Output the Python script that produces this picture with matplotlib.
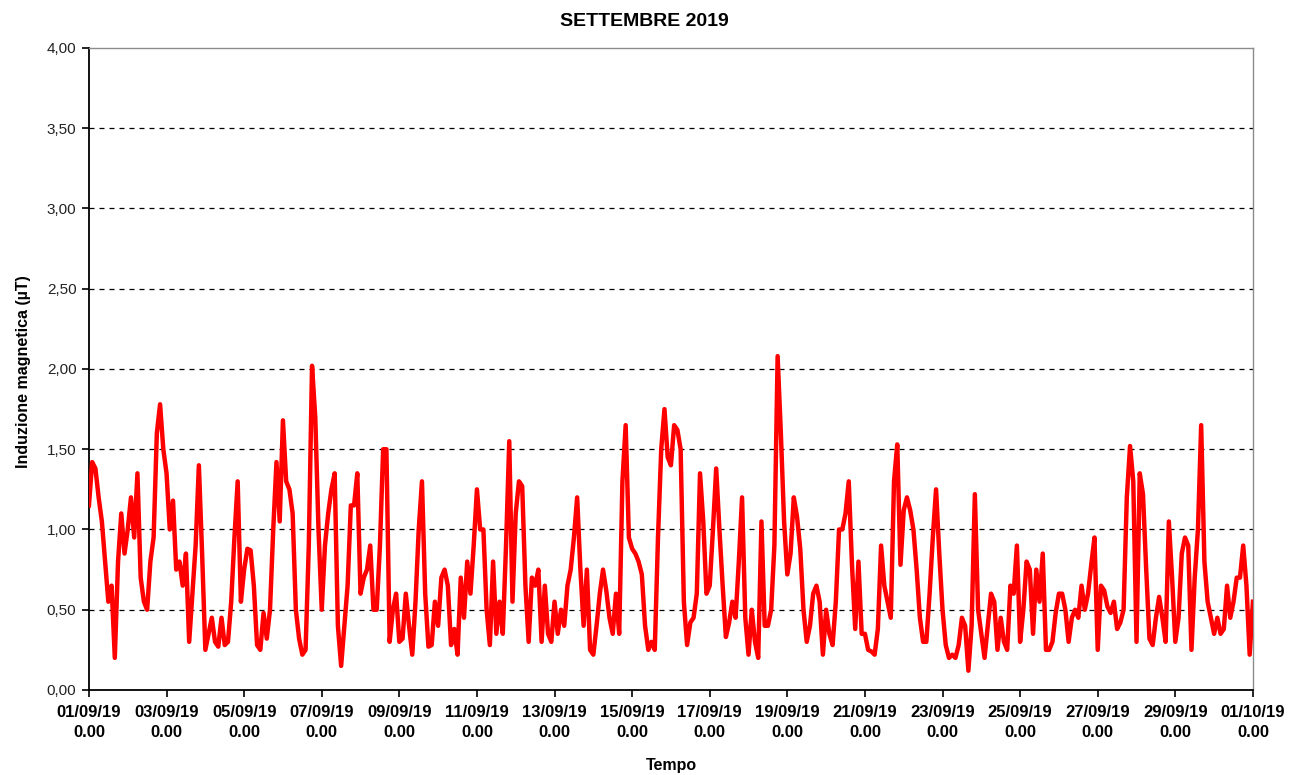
import numpy as np
import pandas as pd
import matplotlib
matplotlib.use("Agg")
import matplotlib.pyplot as plt

plt.rcParams['font.family'] = ['Liberation Sans', 'DejaVu Sans']

# induzione magnetica (uT), una lettura ogni 2 ore dal 01/09/19 0.00
b_uT = [
    1.15, 1.42, 1.38, 1.20, 1.05, 0.80, 0.55, 0.65, 0.20, 0.80, 1.10, 0.85,  # 01/09
    1.00, 1.20, 0.95, 1.35, 0.70, 0.55, 0.50, 0.80, 0.95, 1.60, 1.78, 1.50,  # 02/09
    1.35, 1.00, 1.18, 0.75, 0.80, 0.65, 0.85, 0.30, 0.60, 0.90, 1.40, 0.85,  # 03/09
    0.25, 0.35, 0.45, 0.30, 0.27, 0.45, 0.28, 0.30, 0.55, 0.95, 1.30, 0.55,  # 04/09
    0.75, 0.88, 0.87, 0.65, 0.28, 0.25, 0.48, 0.32, 0.50, 1.00, 1.42, 1.05,  # 05/09
    1.68, 1.30, 1.25, 1.10, 0.50, 0.32, 0.22, 0.25, 0.90, 2.02, 1.70, 1.00,  # 06/09
    0.50, 0.90, 1.10, 1.25, 1.35, 0.40, 0.15, 0.40, 0.65, 1.15, 1.15, 1.35,  # 07/09
    0.60, 0.70, 0.75, 0.90, 0.50, 0.50, 0.90, 1.50, 1.50, 0.30, 0.50, 0.60,  # 08/09
    0.30, 0.32, 0.60, 0.40, 0.22, 0.55, 1.00, 1.30, 0.60, 0.27, 0.28, 0.55,  # 09/09
    0.40, 0.70, 0.75, 0.65, 0.28, 0.38, 0.22, 0.70, 0.45, 0.80, 0.60, 0.90,  # 10/09
    1.25, 1.00, 1.00, 0.50, 0.28, 0.80, 0.35, 0.55, 0.35, 0.90, 1.55, 0.55,  # 11/09
    1.10, 1.30, 1.27, 0.65, 0.30, 0.70, 0.65, 0.75, 0.30, 0.65, 0.35, 0.30,  # 12/09
    0.55, 0.35, 0.50, 0.40, 0.65, 0.75, 0.95, 1.20, 0.75, 0.40, 0.75, 0.25,  # 13/09
    0.22, 0.40, 0.60, 0.75, 0.62, 0.45, 0.35, 0.60, 0.35, 1.30, 1.65, 0.95,  # 14/09
    0.88, 0.85, 0.80, 0.72, 0.40, 0.25, 0.30, 0.25, 0.95, 1.50, 1.75, 1.45,  # 15/09
    1.40, 1.65, 1.62, 1.50, 0.55, 0.28, 0.42, 0.45, 0.60, 1.35, 1.05, 0.60,  # 16/09
    0.65, 1.00, 1.38, 1.00, 0.65, 0.33, 0.42, 0.55, 0.45, 0.80, 1.20, 0.45,  # 17/09
    0.22, 0.50, 0.30, 0.20, 1.05, 0.40, 0.40, 0.50, 0.90, 2.08, 1.60, 1.05,  # 18/09
    0.72, 0.85, 1.20, 1.08, 0.88, 0.50, 0.30, 0.40, 0.60, 0.65, 0.55, 0.22,  # 19/09
    0.50, 0.35, 0.28, 0.55, 1.00, 1.00, 1.10, 1.30, 0.78, 0.38, 0.80, 0.35,  # 20/09
    0.35, 0.25, 0.24, 0.22, 0.38, 0.90, 0.65, 0.55, 0.45, 1.30, 1.53, 0.78,  # 21/09
    1.12, 1.20, 1.12, 1.00, 0.75, 0.45, 0.30, 0.30, 0.60, 0.95, 1.25, 0.85,  # 22/09
    0.50, 0.28, 0.20, 0.22, 0.20, 0.28, 0.45, 0.40, 0.12, 0.40, 1.22, 0.50,  # 23/09
    0.35, 0.20, 0.40, 0.60, 0.55, 0.25, 0.45, 0.30, 0.25, 0.65, 0.60, 0.90,  # 24/09
    0.30, 0.50, 0.80, 0.75, 0.35, 0.75, 0.55, 0.85, 0.25, 0.25, 0.30, 0.48,  # 25/09
    0.60, 0.60, 0.50, 0.30, 0.45, 0.50, 0.45, 0.65, 0.50, 0.60, 0.78, 0.95,  # 26/09
    0.25, 0.65, 0.62, 0.52, 0.48, 0.55, 0.38, 0.42, 0.50, 1.20, 1.52, 1.30,  # 27/09
    0.30, 1.35, 1.22, 0.75, 0.32, 0.28, 0.45, 0.58, 0.45, 0.30, 1.05, 0.70,  # 28/09
    0.30, 0.45, 0.85, 0.95, 0.90, 0.25, 0.70, 1.00, 1.65, 0.80, 0.55, 0.45,  # 29/09
    0.35, 0.45, 0.35, 0.38, 0.65, 0.45, 0.55, 0.70, 0.70, 0.90, 0.65, 0.22,  # 30/09
    0.55,                                                                    # 01/10
]
start = "2019-09-01"
end = "2019-10-01"
y_ticks = [0.0, 0.5, 1.0, 1.5, 2.0, 2.5, 3.0, 3.5, 4.0]

times = pd.date_range(start, periods=len(b_uT), freq="2h")
x_ticks = pd.date_range(start, end, freq="2D")

fig = plt.figure(figsize=(12.89, 7.75), dpi=100)
ax = fig.add_axes([0.069, 0.1097, 0.903, 0.8284])

# griglia tratteggiata
for y in y_ticks[1:-1]:
    ax.axhline(y, color='black', lw=0.9, ls=(0, (4, 4)), zorder=1)

ax.plot(times, b_uT, color='#ff0000', lw=3.2, zorder=3)

ax.set_ylim(0, 4)
ax.set_yticks(y_ticks)
ax.set_yticklabels([f"{v:.2f}".replace('.', ',') for v in y_ticks], fontsize=11, color='#222222')
ax.set_xlim(pd.Timestamp(start), pd.Timestamp(end))
ax.set_xticks(x_ticks)
ax.set_xticklabels([f"{t:%d/%m/%y}\n{t.hour}.{t:%M}" for t in x_ticks],
                   fontsize=12, fontweight='bold', linespacing=1.4)
ax.tick_params(axis='both', direction='out', length=5, width=1.2, color='black')
ax.tick_params(axis='x', pad=6)
ax.tick_params(axis='y', pad=4)

for side in ['left', 'bottom']:
    ax.spines[side].set_color('black')
    ax.spines[side].set_linewidth(1.3)
for side in ['top', 'right']:
    ax.spines[side].set_color('#8c8c8c')
    ax.spines[side].set_linewidth(1.0)

fig.text(0.5, 0.972, 'SETTEMBRE 2019', ha='center', va='center', fontsize=14, fontweight='bold')
fig.text(0.018, 0.52, 'Induzione magnetica (µT)', ha='center', va='center',
         rotation=90, fontsize=11.5, fontweight='bold')
fig.text(0.521, 0.012, 'Tempo', ha='center', va='center', fontsize=11.5, fontweight='bold')

fig.savefig('out.png', dpi=100, facecolor='white')
